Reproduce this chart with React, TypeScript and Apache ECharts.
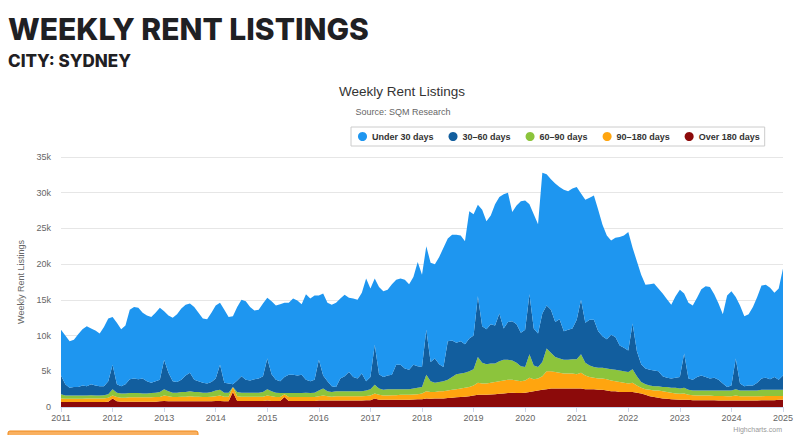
import React, { useEffect, useRef } from "react";
import * as echarts from "echarts";

// Monthly readings, Jan 2011 .. Jan 2025, in thousands of listings.
const startYear = 2011;

// total listings (all ages)
const totalListings = [
  10.8, 10.0, 9.2, 9.4, 10.2, 10.9, 11.3, 11.0, 10.7, 10.3, 11.2, 12.4,
  12.6, 11.8, 10.9, 11.4, 13.6, 14.0, 13.9, 13.2, 12.8, 12.6, 13.2, 13.9,
  13.4, 12.8, 12.5, 13.0, 13.8, 14.3, 14.5, 14.0, 13.2, 12.4, 12.3, 13.2,
  14.2, 14.6, 13.6, 12.6, 12.7, 14.0, 15.0, 14.8, 14.0, 13.5, 13.6, 14.5,
  15.3, 14.8, 14.2, 14.4, 14.6, 14.6, 15.2, 14.9, 14.4, 15.8, 15.2, 15.6,
  15.6, 15.9, 14.6, 14.3, 14.6, 15.2, 15.7, 15.3, 15.2, 15.0, 16.0, 18.0,
  16.6, 18.0, 16.8, 16.2, 16.4, 17.2, 17.8, 18.0, 17.8, 17.2, 18.2, 20.3,
  18.5, 22.5, 20.2, 20.0, 21.0, 22.3, 23.6, 24.1, 24.1, 24.0, 23.2, 27.4,
  27.0, 28.3, 27.6, 26.0, 26.8, 28.4, 29.4, 29.8, 30.0, 27.3, 28.2, 28.8,
  28.9, 28.4, 27.0, 25.6, 32.8, 32.6, 31.9, 31.3, 30.8, 30.4, 30.2, 30.6,
  30.8, 29.9, 29.0, 29.3, 29.6, 27.6, 25.5, 24.0, 23.3, 23.7, 23.8, 24.0,
  24.5, 22.3, 20.4, 18.5, 17.1, 17.2, 17.3, 16.6, 15.9, 15.1, 14.3, 15.5,
  16.4, 15.9, 14.6, 14.2, 15.3, 16.5, 16.9, 16.8, 15.8, 14.5, 13.0, 15.6,
  16.2, 15.4, 14.2, 12.7, 13.0, 14.0, 15.4, 17.0, 17.1, 16.7, 16.0, 16.6,
  19.4,
];

// listings older than 30 days
const over30Days = [
  4.4, 3.2, 2.7, 2.8, 2.8, 3.0, 2.9, 3.2, 3.0, 2.9, 2.9, 3.6,
  5.9, 3.2, 2.9, 3.2, 3.9, 4.0, 3.9, 4.0, 3.6, 3.4, 3.6, 3.8,
  6.6, 4.8, 3.6, 3.5, 3.8, 4.4, 4.8, 3.8, 3.6, 3.4, 3.3, 3.5,
  4.0, 5.9, 3.4, 3.3, 3.2, 3.7, 4.3, 3.8, 3.7, 3.9, 4.0, 4.3,
  6.8, 4.6, 3.8, 3.6, 4.2, 4.5, 4.5, 4.4, 4.5, 3.8, 3.6, 3.8,
  6.6, 4.4, 3.6, 2.9, 2.8, 4.0, 4.3, 4.9, 4.2, 4.0, 4.7, 3.6,
  4.2, 8.7, 4.6, 4.2, 4.4, 4.5, 5.9, 5.9, 5.4, 5.2, 5.9, 5.7,
  5.6, 10.8, 6.3, 6.8, 6.0, 5.6, 9.2, 9.3, 9.0, 9.2, 8.8, 9.6,
  10.0, 15.5, 11.3, 10.9, 11.6, 11.4, 13.1, 11.0, 11.9, 12.0, 11.6, 10.4,
  10.8, 15.8, 11.0, 10.3, 13.1, 14.2, 13.6, 11.9, 12.3, 10.6, 10.8, 11.0,
  12.2, 15.0, 11.8, 12.2, 12.2, 10.6, 9.9, 9.5, 10.1, 9.8, 8.6, 8.3,
  7.9, 11.7, 7.8, 6.0, 5.4, 5.2, 5.1, 5.0, 4.3, 4.1, 4.0, 4.1,
  4.2, 7.5, 4.0, 3.8, 4.2, 4.4, 4.2, 4.0, 4.1, 3.8, 3.3, 2.8,
  3.0, 6.8, 3.3, 2.9, 3.0, 3.0, 3.4, 4.0, 4.1, 3.9, 4.2, 3.8,
  4.4,
];

// listings older than 60 days
const over60Days = [
  1.8, 1.6, 1.6, 1.6, 1.6, 1.6, 1.6, 1.65, 1.6, 1.6, 1.65, 1.8,
  2.5, 2.0, 1.9, 1.9, 1.95, 1.95, 1.95, 1.9, 1.9, 1.95, 2.0, 2.1,
  2.5, 2.2, 2.0, 2.0, 2.1, 2.1, 2.2, 2.1, 2.1, 2.0, 2.0, 2.1,
  2.3, 2.4, 2.0, 2.0, 2.8, 2.1, 2.0, 2.0, 2.0, 2.0, 2.0, 2.1,
  2.5, 2.2, 2.0, 1.95, 1.95, 1.95, 1.95, 1.95, 1.95, 2.0, 1.95, 2.0,
  2.3, 2.6, 2.2, 2.1, 2.2, 2.2, 2.2, 2.2, 2.2, 2.2, 2.2, 2.3,
  2.5, 3.1, 2.6, 2.4, 2.5, 2.5, 2.5, 2.5, 2.5, 2.5, 2.6, 2.7,
  2.8, 4.5, 3.6, 3.4, 3.5, 3.6, 3.8, 4.2, 4.6, 4.7, 4.8, 5.0,
  5.3, 7.0, 6.2, 6.0, 6.1, 6.1, 6.4, 6.6, 6.6, 6.5, 6.2, 5.7,
  5.6, 7.4, 5.8, 5.6, 6.3, 8.2, 7.6, 7.0, 6.8, 6.6, 6.6, 6.7,
  6.7, 7.4, 6.2, 5.8, 5.6, 5.5, 5.5, 5.4, 5.3, 5.2, 5.1, 5.0,
  4.9, 5.3, 4.3, 3.5, 3.2, 3.0, 2.9, 2.9, 2.8, 2.8, 2.7, 2.7,
  2.6, 2.7, 2.4, 2.3, 2.3, 2.3, 2.3, 2.3, 2.3, 2.3, 2.3, 2.3,
  2.3, 2.5, 2.3, 2.3, 2.3, 2.3, 2.3, 2.4, 2.4, 2.4, 2.4, 2.4,
  2.4,
];

// listings older than 90 days
const over90Days = [
  1.2, 1.15, 1.15, 1.15, 1.15, 1.15, 1.2, 1.2, 1.2, 1.2, 1.2, 1.3,
  1.6, 1.4, 1.3, 1.3, 1.35, 1.35, 1.35, 1.35, 1.35, 1.35, 1.4, 1.4,
  1.6, 1.5, 1.4, 1.4, 1.45, 1.45, 1.5, 1.45, 1.45, 1.4, 1.4, 1.45,
  1.5, 1.6, 1.45, 1.45, 2.8, 1.5, 1.45, 1.45, 1.45, 1.45, 1.45, 1.45,
  1.6, 1.5, 1.4, 1.4, 1.8, 1.4, 1.4, 1.4, 1.4, 1.4, 1.4, 1.4,
  1.5, 1.6, 1.5, 1.45, 1.5, 1.5, 1.5, 1.5, 1.5, 1.5, 1.5, 1.55,
  1.6, 1.9, 1.7, 1.6, 1.6, 1.65, 1.65, 1.7, 1.7, 1.7, 1.75, 1.8,
  1.9, 2.2, 2.1, 2.1, 2.2, 2.2, 2.3, 2.4, 2.5, 2.6, 2.7, 2.8,
  3.0, 3.4, 3.3, 3.3, 3.4, 3.5, 3.6, 3.7, 3.8, 3.8, 3.7, 3.6,
  3.7, 4.1, 3.9, 4.0, 4.3, 5.0, 5.0, 4.9, 4.8, 4.7, 4.7, 4.7,
  4.6, 4.8, 4.4, 4.2, 4.1, 4.0, 4.0, 3.9, 3.7, 3.6, 3.5, 3.4,
  3.3, 3.4, 3.0, 2.7, 2.5, 2.4, 2.3, 2.3, 2.2, 2.1, 2.0, 1.9,
  1.85, 1.9, 1.7, 1.65, 1.6, 1.6, 1.6, 1.6, 1.55, 1.55, 1.55, 1.5,
  1.5, 1.6, 1.5, 1.5, 1.5, 1.5, 1.5, 1.5, 1.55, 1.55, 1.55, 1.55,
  1.55,
];

// listings older than 180 days
const over180Days = [
  0.7, 0.7, 0.7, 0.7, 0.7, 0.7, 0.7, 0.7, 0.7, 0.7, 0.7, 0.75,
  1.2, 0.8, 0.75, 0.75, 0.75, 0.75, 0.75, 0.75, 0.75, 0.75, 0.75, 0.8,
  0.85, 0.8, 0.8, 0.8, 0.8, 0.8, 0.8, 0.8, 0.8, 0.8, 0.8, 0.8,
  0.85, 0.85, 0.8, 0.8, 2.1, 0.85, 0.85, 0.85, 0.85, 0.85, 0.85, 0.85,
  0.9, 0.85, 0.85, 0.85, 1.4, 0.85, 0.85, 0.85, 0.85, 0.85, 0.85, 0.85,
  0.9, 0.9, 0.9, 0.9, 0.9, 0.9, 0.9, 0.9, 0.9, 0.9, 0.9, 0.95,
  0.95, 1.2, 1.0, 1.0, 1.0, 1.0, 1.0, 1.0, 1.0, 1.0, 1.05, 1.1,
  1.1, 1.2, 1.15, 1.2, 1.2, 1.2, 1.25, 1.3, 1.35, 1.4, 1.45, 1.5,
  1.6, 1.7, 1.7, 1.7, 1.75, 1.8, 1.85, 1.9, 1.95, 2.0, 1.95, 1.95,
  2.0, 2.1, 2.2, 2.3, 2.4, 2.5, 2.6, 2.6, 2.6, 2.6, 2.6, 2.6,
  2.6, 2.6, 2.5, 2.5, 2.5, 2.4, 2.4, 2.3, 2.2, 2.2, 2.1, 2.1,
  2.1, 2.1, 2.0, 1.9, 1.7, 1.5, 1.4, 1.3, 1.2, 1.15, 1.1, 1.05,
  1.0, 1.0, 1.0, 0.95, 0.95, 0.95, 0.95, 0.95, 0.95, 0.9, 0.9, 0.9,
  0.9, 0.9, 0.9, 0.9, 0.9, 0.9, 0.9, 0.95, 0.95, 0.95, 0.95, 1.0,
  1.0,
];

const seriesNames = ["Under 30 days", "30–60 days", "60–90 days", "90–180 days", "Over 180 days"];
const seriesColors = ["#1E96F0", "#125E9E", "#8CC43C", "#FFA50F", "#8C0A0A"];

const pageTitle = "WEEKLY RENT LISTINGS";
const pageSubtitle = "CITY: SYDNEY";
const chartTitle = "Weekly Rent Listings";
const chartSubtitle = "Source: SQM Research";
const yAxisTitle = "Weekly Rent Listings";
const creditText = "Highcharts.com";

// month categories "YYYY-MM"
const monthLabels = totalListings.map((_, i) => {
  const y = startYear + Math.floor(i / 12);
  const m = (i % 12) + 1;
  return y + "-" + (m < 10 ? "0" + m : String(m));
});

function band(upper: number[], lower: number[] | null) {
  return upper.map((u, i) => Math.round((u - (lower ? lower[i] : 0)) * 1000));
}

export default function App() {
  const ref = useRef<HTMLDivElement>(null);
  useEffect(() => {
    if (!ref.current) return;
    const chart = echarts.init(ref.current, null, { renderer: "svg" });
    const bands = [
      band(totalListings, over30Days),
      band(over30Days, over60Days),
      band(over60Days, over90Days),
      band(over90Days, over180Days),
      band(over180Days, null),
    ];
    // stack bottom-up: Over 180 first
    const order = [4, 3, 2, 1, 0];
    const font = "'Liberation Sans', Arial, sans-serif";
    const yearStart = (i: number) => i % 12 === 0;
    chart.setOption({
      animation: false,
      textStyle: { fontFamily: font },
      grid: { left: 61, right: 17, top: 157, bottom: 28, containLabel: false },
      graphic: [
        {
          type: "text",
          x: 8,
          y: 29,
          style: {
            text: pageTitle,
            font: "800 30px Inter, 'Open Sans', sans-serif",
            fill: "#1f2023",
            verticalAlign: "middle",
          },
        },
        {
          type: "text",
          x: 8,
          y: 61,
          style: {
            text: pageSubtitle,
            font: "800 17px Inter, 'Open Sans', sans-serif",
            fill: "#1f2023",
            verticalAlign: "middle",
          },
        },
        {
          type: "text",
          x: 402,
          y: 91,
          style: {
            text: chartTitle,
            font: "13.5px " + font,
            fill: "#333333",
            align: "center",
            verticalAlign: "middle",
          },
        },
        {
          type: "text",
          x: 403,
          y: 112,
          style: {
            text: chartSubtitle,
            font: "9px " + font,
            fill: "#666666",
            align: "center",
            verticalAlign: "middle",
          },
        },
        {
          type: "text",
          x: 782,
          y: 429,
          style: {
            text: creditText,
            font: "7px " + font,
            fill: "#999999",
            align: "right",
            verticalAlign: "middle",
          },
        },
        {
          type: "rect",
          shape: { x: 8, y: 431, width: 190, height: 10, r: 2 },
          style: { fill: "#F9B060", stroke: "#F08A1C", lineWidth: 1 },
        },
      ],
      legend: {
        data: seriesNames,
        left: 351,
        top: 127,
        padding: [5, 5, 5, 7],
        itemGap: 15,
        itemWidth: 9,
        itemHeight: 9,
        icon: "circle",
        borderColor: "#cccccc",
        borderWidth: 1,
        textStyle: { fontSize: 9, fontWeight: "bold", color: "#333333", fontFamily: font },
      },
      xAxis: {
        type: "category",
        data: monthLabels,
        boundaryGap: false,
        axisLine: { show: true, lineStyle: { color: "#ccd6eb" } },
        axisTick: { show: true, length: 5, interval: (i: number) => yearStart(i), lineStyle: { color: "#ccd6eb" } },
        splitLine: { show: false },
        axisLabel: {
          fontSize: 9,
          color: "#666666",
          margin: 6,
          interval: (i: number) => yearStart(i),
          formatter: (v: string) => v.slice(0, 4),
        },
      },
      yAxis: {
        type: "value",
        min: 0,
        max: 35000,
        interval: 5000,
        name: yAxisTitle,
        nameLocation: "middle",
        nameGap: 27,
        nameTextStyle: { fontSize: 9, color: "#666666" },
        axisLine: { show: false },
        axisTick: { show: false },
        splitLine: { lineStyle: { color: "#e6e6e6", width: 1 } },
        axisLabel: {
          fontSize: 9,
          color: "#666666",
          margin: 10,
          formatter: (v: number) => (v === 0 ? "0" : v / 1000 + "k"),
        },
      },
      series: order.map((k) => ({
        name: seriesNames[k],
        type: "line",
        stack: "listings",
        data: bands[k],
        showSymbol: false,
        symbol: "none",
        lineStyle: { width: 0 },
        areaStyle: { color: seriesColors[k], opacity: 1 },
        itemStyle: { color: seriesColors[k] },
        z: 2,
      })),
    });
    return () => chart.dispose();
  }, []);
  return (
    <div
      ref={ref}
      style={{ position: "absolute", left: 0, top: 0, width: 800, height: 435, background: "#ffffff" }}
    />
  );
}
